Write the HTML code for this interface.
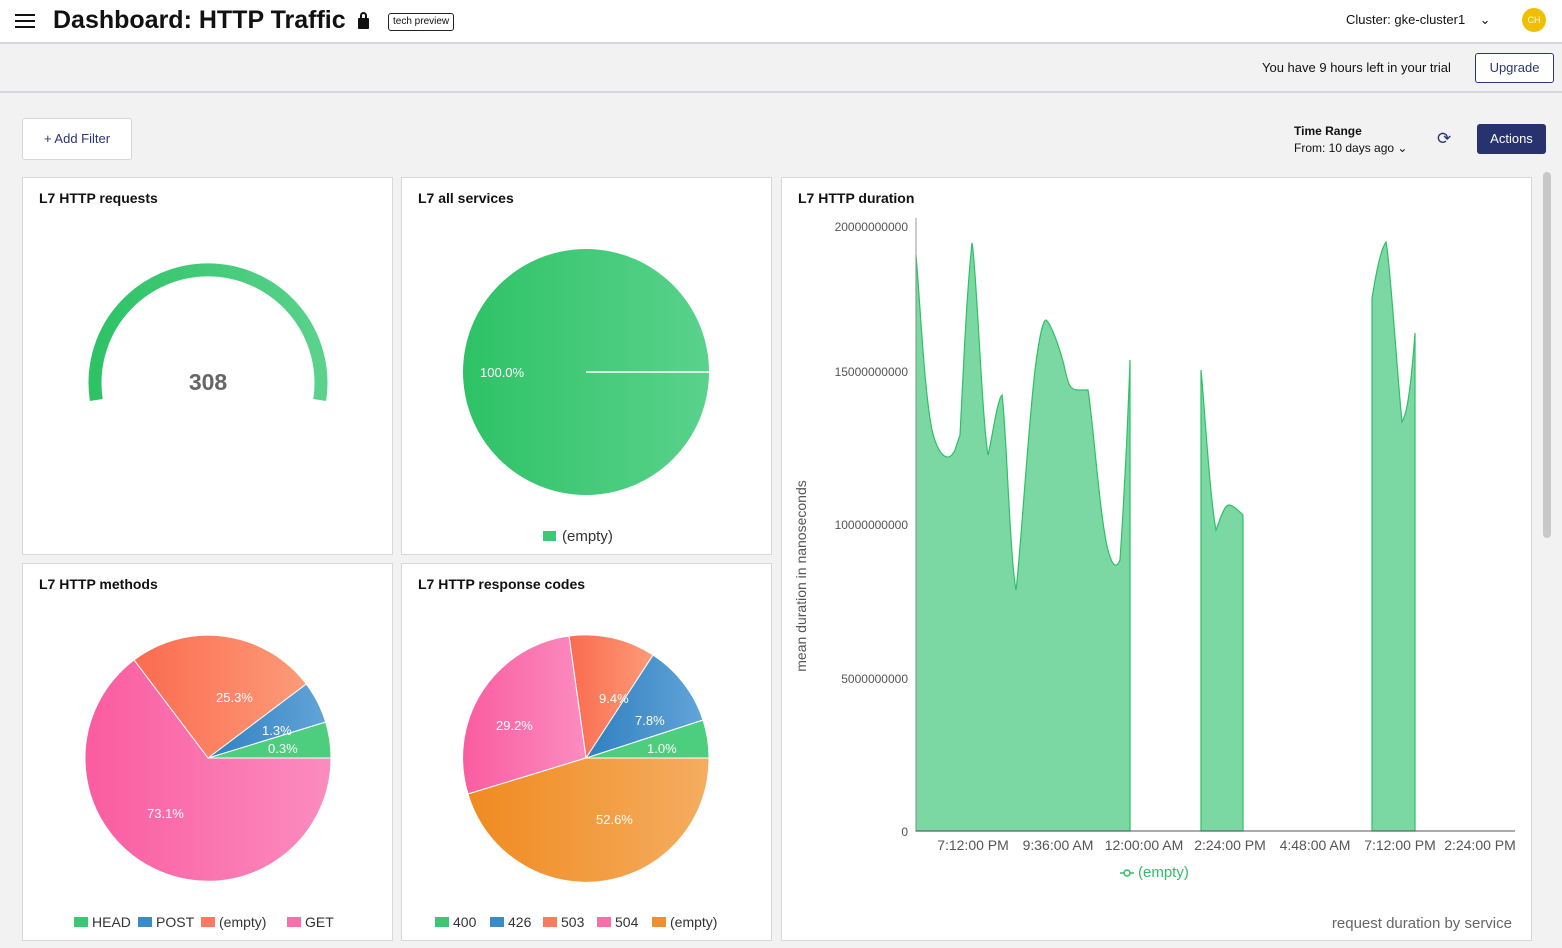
<!DOCTYPE html>
<html><head><meta charset="utf-8"><style>
*{margin:0;padding:0;box-sizing:border-box}
body{width:1562px;height:948px;background:#f2f2f2;font-family:"Liberation Sans",sans-serif;position:relative;overflow:hidden;color:#111}
.abs{position:absolute}
.card{position:absolute;background:#fff;border:1px solid #d8d8dc}
.ct{position:absolute;left:16px;top:12px;font-size:14px;font-weight:bold;color:#111}
</style></head><body>
<div class="abs" style="left:0;top:0;width:1562px;height:44px;background:#fff;border-bottom:2px solid #d6d6dc"></div>
<div class="abs" style="left:15px;top:14px;width:20px;height:2px;background:#111;box-shadow:0 6px 0 #111,0 12px 0 #111"></div>
<div class="abs" style="left:53px;top:6px;font-size:25px;font-weight:bold;color:#111">Dashboard: HTTP Traffic</div>
<div class="abs" style="left:358px;top:18px;width:11px;height:11px;background:#111;border-radius:1px"></div>
<div class="abs" style="left:360px;top:12px;width:7px;height:9px;border:2px solid #111;border-bottom:none;border-radius:4px 4px 0 0"></div>
<div class="abs" style="left:388px;top:13px;height:18px;padding:0 4px;border:1px solid #222;border-radius:3px;font-size:10px;line-height:16px">tech preview</div>
<div class="abs" style="left:1346px;top:12px;font-size:13px">Cluster: gke-cluster1 &nbsp;&nbsp;&nbsp;⌄</div>
<div class="abs" style="left:1522px;top:8px;width:24px;height:24px;border-radius:50%;background:#f0c000;color:#fff;font-size:9px;text-align:center;line-height:24px">CH</div>
<div class="abs" style="left:0;top:91px;width:1562px;height:2px;background:#d6d6dc"></div>
<div class="abs" style="left:1262px;top:60px;font-size:13px">You have 9 hours left in your trial</div>
<div class="abs" style="left:1475px;top:53px;width:79px;height:30px;border:1px solid #2a3575;border-radius:3px;background:#fff;color:#2a3575;font-size:13px;text-align:center;line-height:28px">Upgrade</div>
<div class="abs" style="left:22px;top:118px;width:110px;height:42px;border:1px solid #d6d6dc;border-radius:3px;background:#fff;color:#2a3575;font-size:13px;text-align:center;line-height:40px">+ Add Filter</div>
<div class="abs" style="left:1294px;top:124px;font-size:12px;font-weight:bold">Time Range</div>
<div class="abs" style="left:1294px;top:141px;font-size:12px">From: 10 days ago ⌄</div>
<div class="abs" style="left:1437px;top:129px;font-size:17px;color:#2a3575">⟳</div>
<div class="abs" style="left:1477px;top:124px;width:69px;height:30px;background:#27326f;border-radius:3px;color:#fff;font-size:13px;text-align:center;line-height:30px">Actions</div>
<div class="abs" style="left:1543px;top:172px;width:8px;height:366px;background:#c8c8c8;border-radius:4px"></div>

<div class="card" style="left:22px;top:177px;width:371px;height:378px"><div class="ct">L7 HTTP requests</div></div>
<div class="card" style="left:401px;top:177px;width:371px;height:378px"><div class="ct">L7 all services</div></div>
<div class="card" style="left:22px;top:563px;width:371px;height:378px"><div class="ct">L7 HTTP methods</div></div>
<div class="card" style="left:401px;top:563px;width:371px;height:378px"><div class="ct">L7 HTTP response codes</div></div>
<div class="card" style="left:781px;top:177px;width:751px;height:764px"><div class="ct">L7 HTTP duration</div></div>

<svg class="abs" style="left:0;top:0" width="1562" height="948" font-family="Liberation Sans, sans-serif">
<defs>
<linearGradient id="g" x1="0" x2="1"><stop offset="0" stop-color="#2ec266"/><stop offset="1" stop-color="#5ad28c"/></linearGradient>
<linearGradient id="pk" x1="0" x2="1"><stop offset="0" stop-color="#fa5ca0"/><stop offset="1" stop-color="#fb8cc0"/></linearGradient>
<linearGradient id="or" x1="0" x2="1"><stop offset="0" stop-color="#fb6b50"/><stop offset="1" stop-color="#fc9b78"/></linearGradient>
<linearGradient id="bl" x1="0" x2="1"><stop offset="0" stop-color="#2f80c0"/><stop offset="1" stop-color="#62a4d8"/></linearGradient>
<linearGradient id="og" x1="0" x2="1"><stop offset="0" stop-color="#f08a20"/><stop offset="1" stop-color="#f5ad60"/></linearGradient>
</defs>
<!-- gauge -->
<path d="M96.3,400 A113,113 0 1 1 319.7,400" fill="none" stroke="url(#g)" stroke-width="13"/>
<text x="208" y="390" text-anchor="middle" font-size="23" font-weight="bold" fill="#666">308</text>
<!-- all services -->
<circle cx="586" cy="372" r="123" fill="url(#g)"/>
<line x1="586" y1="372" x2="709" y2="372" stroke="#fff" stroke-width="1.5"/>
<text x="480" y="377" font-size="13" fill="#fff">100.0%</text>
<rect x="543" y="531" width="13" height="10" fill="#3cc774"/><text x="562" y="541" font-size="15" fill="#333">(empty)</text>
<!-- methods -->
<g stroke="#fff" stroke-width="1">
<path d="M208,758 L331,758 A123,123 0 0,0 325.6,722 Z" fill="#4cce7e"/>
<path d="M208,758 L325.6,722 A123,123 0 0,0 306.2,684 Z" fill="url(#bl)"/>
<path d="M208,758 L306.2,684 A123,123 0 0,0 134,660 Z" fill="url(#or)"/>
<path d="M208,758 L134,660 A123,123 0 1,0 331,758 Z" fill="url(#pk)"/>
</g>
<g font-size="13" fill="#fff"><text x="216" y="702">25.3%</text><text x="262" y="735">1.3%</text><text x="268" y="753">0.3%</text><text x="147" y="818">73.1%</text></g>
<g font-size="14" fill="#333">
<rect x="74" y="917" width="14" height="10" fill="#3cc774"/><text x="92" y="927">HEAD</text>
<rect x="138" y="917" width="14" height="10" fill="#3a8bc8"/><text x="156" y="927">POST</text>
<rect x="201" y="917" width="14" height="10" fill="#fb7a60"/><text x="219" y="927">(empty)</text>
<rect x="287" y="917" width="14" height="10" fill="#fa6eaa"/><text x="305" y="927">GET</text>
</g>
<!-- response codes -->
<g stroke="#fff" stroke-width="1">
<path d="M586,758 L709,758 A123,123 0 0,0 703,720 Z" fill="#4cce7e"/>
<path d="M586,758 L703,720 A123,123 0 0,0 653,655 Z" fill="url(#bl)"/>
<path d="M586,758 L653,655 A123,123 0 0,0 569,636 Z" fill="url(#or)"/>
<path d="M586,758 L569,636 A123,123 0 0,0 468,794 Z" fill="url(#pk)"/>
<path d="M586,758 L468,794 A123,123 0 0,0 709,758 Z" fill="url(#og)"/>
</g>
<g font-size="13" fill="#fff"><text x="599" y="703">9.4%</text><text x="635" y="725">7.8%</text><text x="647" y="753">1.0%</text><text x="496" y="730">29.2%</text><text x="596" y="824">52.6%</text></g>
<g font-size="14" fill="#333">
<rect x="435" y="917" width="14" height="10" fill="#3cc774"/><text x="453" y="927">400</text>
<rect x="490" y="917" width="14" height="10" fill="#3a8bc8"/><text x="508" y="927">426</text>
<rect x="543" y="917" width="14" height="10" fill="#fb7a60"/><text x="561" y="927">503</text>
<rect x="597" y="917" width="14" height="10" fill="#fa6eaa"/><text x="615" y="927">504</text>
<rect x="652" y="917" width="14" height="10" fill="#f08f30"/><text x="670" y="927">(empty)</text>
</g>
<!-- duration -->
<g fill="#7bd8a2" stroke="#2ebf68" stroke-width="1.2">
<path d="M916,831 L916,255 C920,300 924,390 932,430 C938,455 948,465 955,450 L960,435 C963,380 966,300 972,243 C976,260 982,420 988,455 C992,440 997,400 1002,395 C1006,420 1010,560 1016,590 C1020,560 1028,430 1035,370 C1040,330 1044,320 1046,320 C1052,325 1060,350 1064,365 C1068,385 1070,390 1078,390 L1088,390 C1093,420 1100,520 1108,550 C1112,565 1116,570 1120,560 C1124,500 1128,420 1130,360 L1130,831 Z"/>
<path d="M1201,831 L1201,370 C1204,400 1210,500 1216,530 C1220,520 1224,505 1229,505 C1233,505 1240,512 1243,515 L1243,831 Z"/>
<path d="M1372,831 L1372,298 C1375,280 1380,250 1386,242 C1390,260 1396,360 1402,422 C1406,415 1410,400 1415,333 L1415,831 Z"/>
</g>
<line x1="916" y1="218" x2="916" y2="831" stroke="#999" stroke-width="1"/>
<line x1="916" y1="831" x2="1515" y2="831" stroke="#555" stroke-width="1"/>
<g font-size="12" fill="#555" text-anchor="end">
<text x="908" y="231">20000000000</text><text x="908" y="376">15000000000</text><text x="908" y="529">10000000000</text><text x="908" y="683">5000000000</text><text x="908" y="836">0</text>
</g>
<g font-size="14" fill="#555" text-anchor="middle">
<text x="973" y="850">7:12:00 PM</text><text x="1058" y="850">9:36:00 AM</text><text x="1144" y="850">12:00:00 AM</text><text x="1230" y="850">2:24:00 PM</text><text x="1315" y="850">4:48:00 AM</text><text x="1400" y="850">7:12:00 PM</text><text x="1480" y="850">2:24:00 PM</text>
</g>
<text transform="translate(806,576) rotate(-90)" font-size="14" fill="#555" text-anchor="middle">mean duration in nanoseconds</text>
<line x1="1120" y1="873" x2="1134" y2="873" stroke="#2ebf68" stroke-width="1.5"/><circle cx="1127" cy="873" r="3" fill="#fff" stroke="#2ebf68" stroke-width="1.5"/>
<text x="1138" y="877" font-size="15" fill="#2ebf68">(empty)</text>
<text x="1512" y="928" font-size="15" fill="#666" text-anchor="end">request duration by service</text>
</svg>
</body></html>
